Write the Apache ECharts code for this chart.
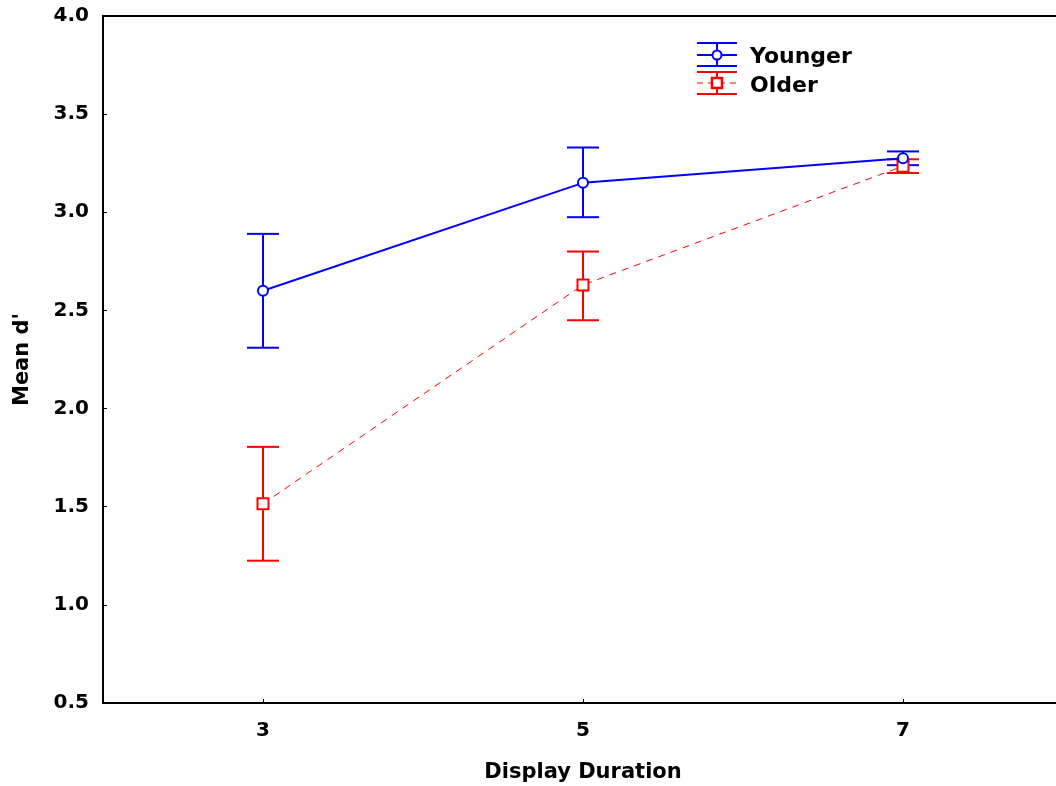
<!DOCTYPE html>
<html>
<head>
<meta charset="utf-8">
<script src="https://cdn.jsdelivr.net/npm/echarts@6/dist/echarts.min.js"></script>
<style>
html,body{margin:0;padding:0;background:#fff;}
#chart{width:1056px;height:786px;}
</style>
</head>
<body>
<div id="chart"></div>
<script>
var durations = [3, 5, 7];
var xTicks = [3, 5, 7];
var youngerMean = [2.60, 3.15, 3.275];
var youngerLow = [2.31, 2.975, 3.24];
var youngerHigh = [2.89, 3.33, 3.31];
var olderMean = [1.515, 2.63, 3.235];
var olderLow = [1.225, 2.45, 3.20];
var olderHigh = [1.805, 2.80, 3.27];
var seriesNames = ['Younger', 'Older'];

var FONT = 'DejaVu Sans';
var BLUE = '#0000ff';
var RED = '#ff0000';

function pairs(xs, ys) { return xs.map(function (x, i) { return [x, ys[i]]; }); }
function errData(xs, lo, hi) { return xs.map(function (x, i) { return [x, lo[i], hi[i]]; }); }

function errRender(color) {
  return function (params, api) {
    var x = api.value(0);
    var lo = api.coord([x, api.value(1)]);
    var hi = api.coord([x, api.value(2)]);
    var hw = 16;
    var st = { stroke: color, lineWidth: 2 };
    return {
      type: 'group',
      children: [
        { type: 'line', shape: { x1: lo[0], y1: lo[1], x2: hi[0], y2: hi[1] }, style: st },
        { type: 'line', shape: { x1: lo[0] - hw, y1: lo[1], x2: lo[0] + hw, y2: lo[1] }, style: st },
        { type: 'line', shape: { x1: hi[0] - hw, y1: hi[1], x2: hi[0] + hw, y2: hi[1] }, style: st }
      ]
    };
  };
}

var chart = echarts.init(document.getElementById('chart'));

var legendX = 717;
function legendGroup(y1, y2, y3, color, dashed, marker, label, textY) {
  var st = { stroke: color, lineWidth: 2 };
  var ch = [
    { type: 'line', shape: { x1: legendX - 20, y1: y1, x2: legendX + 20, y2: y1 }, style: st },
    { type: 'line', shape: { x1: legendX - 20, y1: y3, x2: legendX + 20, y2: y3 }, style: st },
    { type: 'line', shape: { x1: legendX, y1: y1, x2: legendX, y2: y3 }, style: st },
    { type: 'line', shape: { x1: legendX - 20, y1: y2, x2: legendX + 20, y2: y2 },
      style: { stroke: color, lineWidth: dashed ? 1 : 2, lineDash: dashed ? [6, 5] : null } }
  ];
  if (marker === 'circle') {
    ch.push({ type: 'circle', shape: { cx: legendX, cy: y2, r: 4.5 }, style: { fill: '#fff', stroke: color, lineWidth: 2 } });
  } else {
    ch.push({ type: 'rect', shape: { x: legendX - 5, y: y2 - 5, width: 10, height: 10 }, style: { fill: '#fff', stroke: color, lineWidth: 2.5 } });
  }
  ch.push({ type: 'text', style: { x: 750, y: textY, text: label, font: 'bold 22px "' + FONT + '"', fill: '#000', textVerticalAlign: 'middle' } });
  return { type: 'group', children: ch };
}

chart.setOption({
  animation: false,
  backgroundColor: '#fff',
  grid: { left: 103, top: 16, width: 960, height: 687, show: true, borderColor: '#000', borderWidth: 2,
    containLabel: false, outerBoundsMode: 'none' },
  xAxis: {
    type: 'value', min: 2, max: 8,
    name: 'Display Duration', nameLocation: 'middle', nameGap: 59,
    nameTextStyle: { fontFamily: FONT, fontWeight: 'bold', fontSize: 21, color: '#000' },
    axisLine: { show: true, lineStyle: { color: '#000', width: 2 } },
    axisTick: { show: true, inside: true, length: 4, customValues: xTicks, lineStyle: { color: '#000', width: 1 } },
    axisLabel: { customValues: xTicks, margin: 18, fontFamily: FONT, fontWeight: 'bold', fontSize: 20, color: '#000' },
    splitLine: { show: false }
  },
  yAxis: {
    type: 'value', min: 0.5, max: 4, interval: 0.5,
    name: "Mean d'", nameLocation: 'middle', nameGap: 70, nameRotate: 90,
    nameTextStyle: { fontFamily: FONT, fontWeight: 'bold', fontSize: 21, color: '#000' },
    axisLine: { show: true, lineStyle: { color: '#000', width: 2 } },
    axisTick: { show: true, inside: true, length: 4, lineStyle: { color: '#000', width: 1 } },
    axisLabel: { margin: 14, fontFamily: FONT, fontWeight: 'bold', fontSize: 20, color: '#000',
      formatter: function (v) { return v.toFixed(1); } },
    splitLine: { show: false }
  },
  series: [
    { type: 'custom', name: seriesNames[0] + ' err', renderItem: errRender(BLUE), data: errData(durations, youngerLow, youngerHigh), z: 2, silent: true },
    { type: 'custom', name: seriesNames[1] + ' err', renderItem: errRender(RED), data: errData(durations, olderLow, olderHigh), z: 2, silent: true },
    { type: 'line', name: seriesNames[0], data: pairs(durations, youngerMean), symbol: 'emptyCircle', symbolSize: 10,
      lineStyle: { color: BLUE, width: 2 }, itemStyle: { color: BLUE, borderColor: BLUE, borderWidth: 2 }, z: 4 },
    { type: 'line', name: seriesNames[1], data: pairs(durations, olderMean), symbol: 'emptyRect', symbolSize: 11,
      lineStyle: { color: RED, width: 1, type: [7, 6] }, itemStyle: { color: RED, borderColor: RED, borderWidth: 2.5 }, z: 3 }
  ],
  graphic: [
    legendGroup(43, 55, 66, BLUE, false, 'circle', seriesNames[0], 57),
    legendGroup(72, 83, 94, RED, true, 'rect', seriesNames[1], 86)
  ]
});
</script>
</body>
</html>
